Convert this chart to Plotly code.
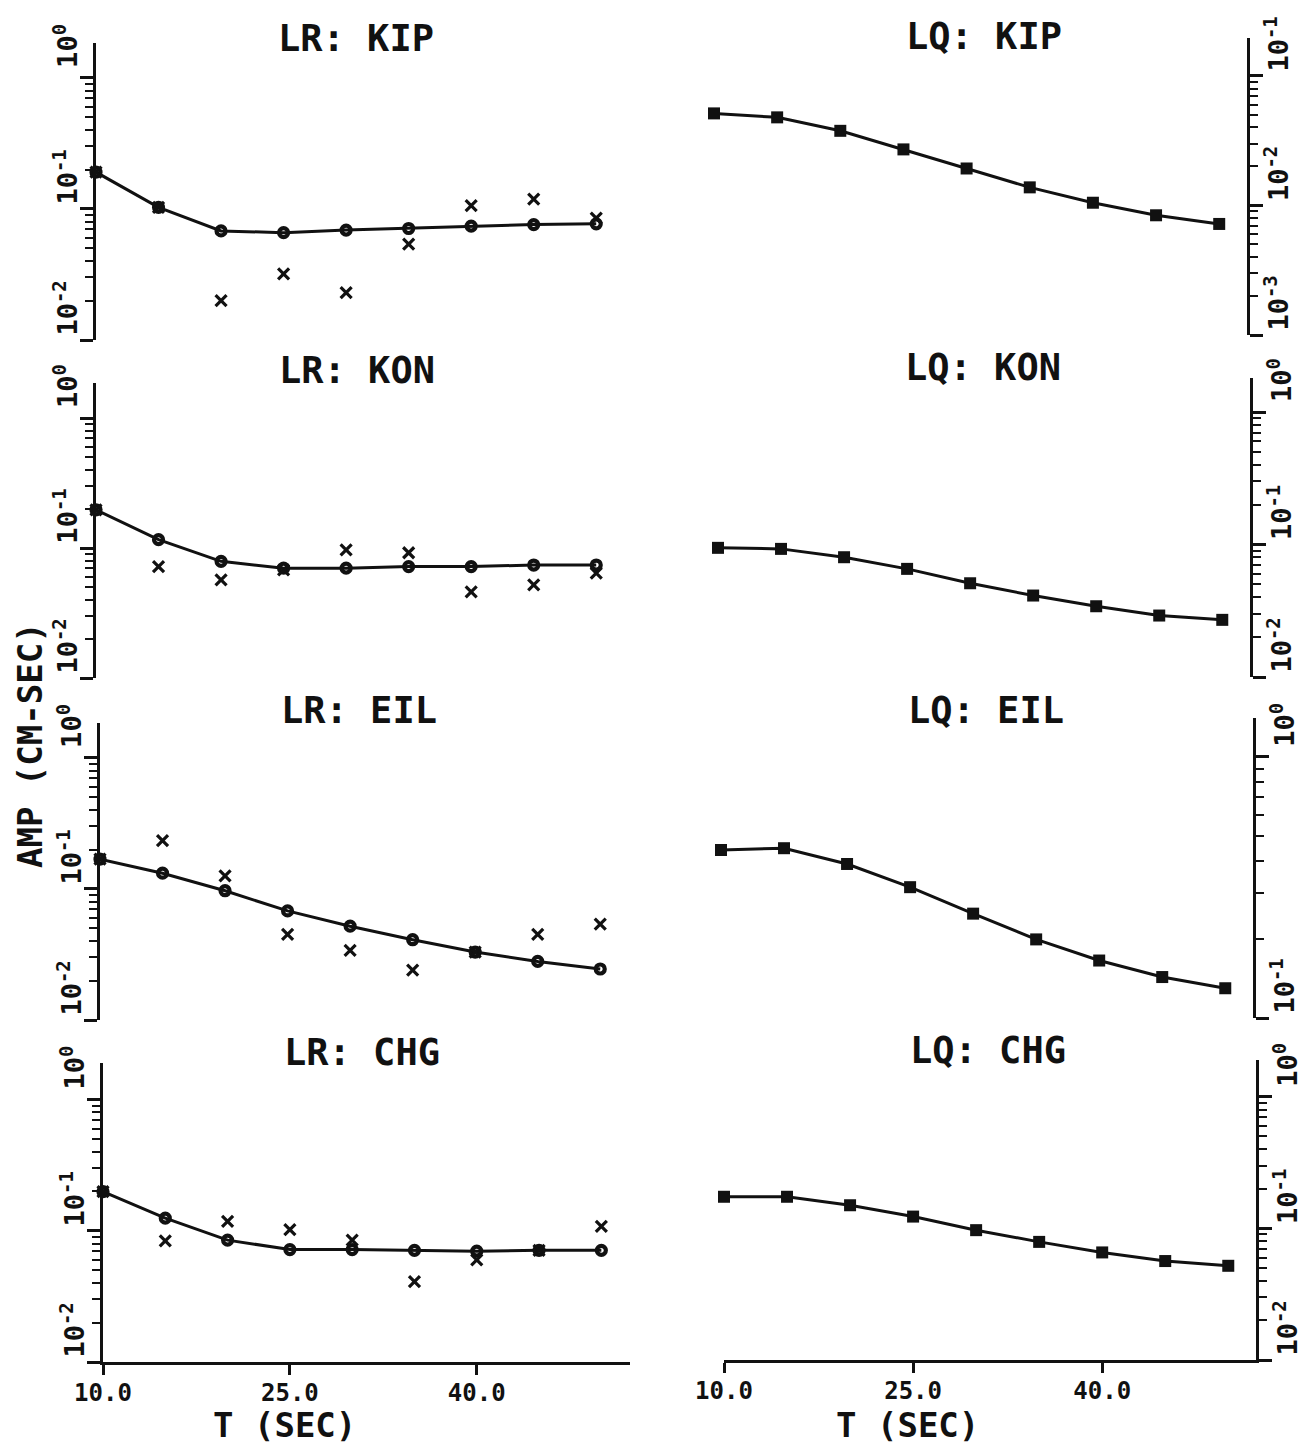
import plotly.graph_objects as go

# page body has an 8px default margin; the figure is sized to fit inside it
PAGE_W, PAGE_H = 1311, 1453
PAD = 8
W, H = PAGE_W - 2 * PAD, PAGE_H - 2 * PAD

periods = [10, 15, 20, 25, 30, 35, 40, 45, 50]
x_ticks = [10, 25, 40]
x_tick_labels = ["10.0", "25.0", "40.0"]

# LR (left column): model curve (circles) and observations (x)
lr_kip_model = [0.191, 0.103, 0.068, 0.066, 0.069, 0.071, 0.074, 0.076, 0.077]
lr_kip_obs = [0.191, 0.103, 0.020, 0.032, 0.023, 0.054, 0.106, 0.119, 0.085]
lr_kon_model = [0.197, 0.116, 0.079, 0.070, 0.070, 0.072, 0.072, 0.074, 0.074]
lr_kon_obs = [0.197, 0.072, 0.057, 0.068, 0.097, 0.092, 0.046, 0.052, 0.064]
lr_eil_model = [0.169, 0.132, 0.097, 0.068, 0.052, 0.041, 0.033, 0.028, 0.0245]
lr_eil_obs = [0.169, 0.234, 0.126, 0.045, 0.034, 0.024, 0.033, 0.045, 0.054]
lr_chg_model = [0.199, 0.125, 0.085, 0.072, 0.072, 0.071, 0.070, 0.071, 0.071]
lr_chg_obs = [0.199, 0.084, 0.118, 0.102, 0.085, 0.041, 0.060, 0.071, 0.108]

# LQ (right column): model curve (filled squares)
lq_kip = [0.0514, 0.0479, 0.0377, 0.0271, 0.0193, 0.0138, 0.0105, 0.0084, 0.0072]
lq_kon = [0.0944, 0.0927, 0.0802, 0.0655, 0.0510, 0.0412, 0.0342, 0.0291, 0.0270]
lq_eil = [0.440, 0.447, 0.389, 0.317, 0.251, 0.200, 0.166, 0.1435, 0.130]
lq_chg = [0.174, 0.174, 0.150, 0.123, 0.097, 0.079, 0.0657, 0.0565, 0.052]

lr_titles = ["LR: KIP", "LR: KON", "LR: EIL", "LR: CHG"]
lq_titles = ["LQ: KIP", "LQ: KON", "LQ: EIL", "LQ: CHG"]

FONT = "DejaVu Sans Mono"
INK = "#111111"


def fx(px):
    return (px - PAD) / W


def fy(py):
    return 1 - (py - PAD) / H


# panel geometry in page pixels: (x0, x1, ytop, ybottom, log range)
left_geo = [
    (96, 625, 43, 340, [-2, 0.267]),
    (96, 625, 383, 678, [-2, 0.27]),
    (100, 629, 723, 1020, [-2, 0.267]),
    (103, 630, 1063, 1362, [-2, 0.28]),
]
right_geo = [
    (714, 1247, 38, 335, [-3, -0.707]),
    (718, 1250, 378, 677, [-2, 0.257]),
    (721, 1253, 718, 1018, [-1, 0.149]),
    (724, 1256, 1060, 1360, [-2, 0.28]),
]
left_title_pos = [(356, 38), (357, 370), (359, 711), (362, 1052)]
right_title_pos = [(984, 36), (983, 367), (986, 710), (988, 1050)]

lr_data = [(lr_kip_model, lr_kip_obs), (lr_kon_model, lr_kon_obs),
           (lr_eil_model, lr_eil_obs), (lr_chg_model, lr_chg_obs)]
lq_data = [lq_kip, lq_kon, lq_eil, lq_chg]

fig = go.Figure()
layout = dict(
    template="none",
    width=W, height=H,
    margin=dict(l=0, r=0, t=0, b=0, autoexpand=False),
    paper_bgcolor="white", plot_bgcolor="white",
    showlegend=False,
    font=dict(family=FONT, color=INK),
)
annotations = []


def sup_label(e):
    return "10<sup>%d</sup>" % e


def y_axis(rng, side, domain, anchor, standoff):
    lo = int(round(rng[0]))
    hi = 0 if rng[1] >= 0 else -1
    majors = [10 ** e for e in range(lo, hi + 1)]
    minors = [m * 10 ** e for e in range(lo, hi) for m in range(2, 10)]
    return dict(
        type="log", range=rng, domain=domain, anchor=anchor, side=side,
        automargin=False,
        showgrid=False, zeroline=False,
        showline=True, linecolor=INK, linewidth=3,
        ticks="outside", ticklen=13, tickwidth=2.5, tickcolor=INK,
        tickmode="array", tickvals=majors,
        ticktext=[sup_label(e) for e in range(lo, hi + 1)],
        tickangle=-90, ticklabelshift=-28, ticklabelstandoff=standoff,
        tickfont=dict(family=FONT, size=27, color=INK, weight="bold"),
        minor=dict(tickmode="array", tickvals=minors, ticks="outside",
                   ticklen=8, tickwidth=2.2, tickcolor=INK, showgrid=False),
        fixedrange=True,
    )


def x_axis(domain, anchor, bottom, rng):
    d = dict(
        type="linear", range=rng, domain=domain, anchor=anchor,
        automargin=False,
        showgrid=False, zeroline=False, fixedrange=True,
    )
    if bottom:
        d.update(showline=True, linecolor=INK, linewidth=3,
                 ticks="outside", ticklen=10, tickwidth=2.5, tickcolor=INK,
                 tickmode="array", tickvals=x_ticks, ticktext=x_tick_labels,
                 ticklabelstandoff=-3,
                 tickfont=dict(family=FONT, size=24, color=INK, weight="bold"),
                 showticklabels=True)
    else:
        d.update(showline=False, ticks="", showticklabels=False)
    return d


idx = 0
for row in range(4):
    # left panel
    idx += 1
    x0, x1, yt, yb, rng = left_geo[row]
    xa = "xaxis" if idx == 1 else "xaxis%d" % idx
    ya = "yaxis" if idx == 1 else "yaxis%d" % idx
    xr = "x" if idx == 1 else "x%d" % idx
    yr = "y" if idx == 1 else "y%d" % idx
    layout[xa] = x_axis([fx(x0), fx(x1)], yr, row == 3, [10, 52.3])
    layout[ya] = y_axis(rng, "left", [fy(yb), fy(yt)], xr, -8)
    model, obs = lr_data[row]
    fig.add_trace(go.Scatter(
        x=periods, y=model, xaxis=xr, yaxis=yr, mode="lines+markers",
        line=dict(color=INK, width=3),
        marker=dict(symbol="circle-open", size=9, color=INK,
                    line=dict(color=INK, width=4.2)),
        cliponaxis=False, hoverinfo="skip"))
    fig.add_trace(go.Scatter(
        x=periods, y=obs, xaxis=xr, yaxis=yr, mode="markers",
        marker=dict(symbol="x-thin-open", size=11, color=INK,
                    line=dict(color=INK, width=3.2)),
        cliponaxis=False, hoverinfo="skip"))
    tx, ty = left_title_pos[row]
    annotations.append(dict(text=lr_titles[row], x=fx(tx), y=fy(ty), xref="paper", yref="paper",
                            xanchor="center", yanchor="middle", showarrow=False,
                            font=dict(family=FONT, size=37, color=INK, weight="bold")))

    # right panel
    idx += 1
    x0, x1, yt, yb, rng = right_geo[row]
    xa = "xaxis%d" % idx
    ya = "yaxis%d" % idx
    xr = "x%d" % idx
    yr = "y%d" % idx
    layout[xa] = x_axis([fx(x0), fx(x1)], yr, row == 3, [10, 52.2])
    layout[ya] = y_axis(rng, "right", [fy(yb), fy(yt)], xr, -7)
    fig.add_trace(go.Scatter(
        x=periods, y=lq_data[row], xaxis=xr, yaxis=yr, mode="lines+markers",
        line=dict(color=INK, width=3),
        marker=dict(symbol="square", size=12, color=INK),
        cliponaxis=False, hoverinfo="skip"))
    tx, ty = right_title_pos[row]
    annotations.append(dict(text=lq_titles[row], x=fx(tx), y=fy(ty), xref="paper", yref="paper",
                            xanchor="center", yanchor="middle", showarrow=False,
                            font=dict(family=FONT, size=37, color=INK, weight="bold")))

# axis titles
annotations.append(dict(text="AMP (CM-SEC)", x=fx(30), y=fy(745), xref="paper", yref="paper",
                        xanchor="center", yanchor="middle", textangle=-90, showarrow=False,
                        font=dict(family=FONT, size=34, color=INK, weight="bold")))
annotations.append(dict(text="T (SEC)", x=fx(284), y=fy(1425), xref="paper", yref="paper",
                        xanchor="center", yanchor="middle", showarrow=False,
                        font=dict(family=FONT, size=34, color=INK, weight="bold")))
annotations.append(dict(text="T (SEC)", x=fx(907), y=fy(1425), xref="paper", yref="paper",
                        xanchor="center", yanchor="middle", showarrow=False,
                        font=dict(family=FONT, size=34, color=INK, weight="bold")))

layout["annotations"] = annotations
fig.update_layout(**layout)
fig.write_html("out.html")
